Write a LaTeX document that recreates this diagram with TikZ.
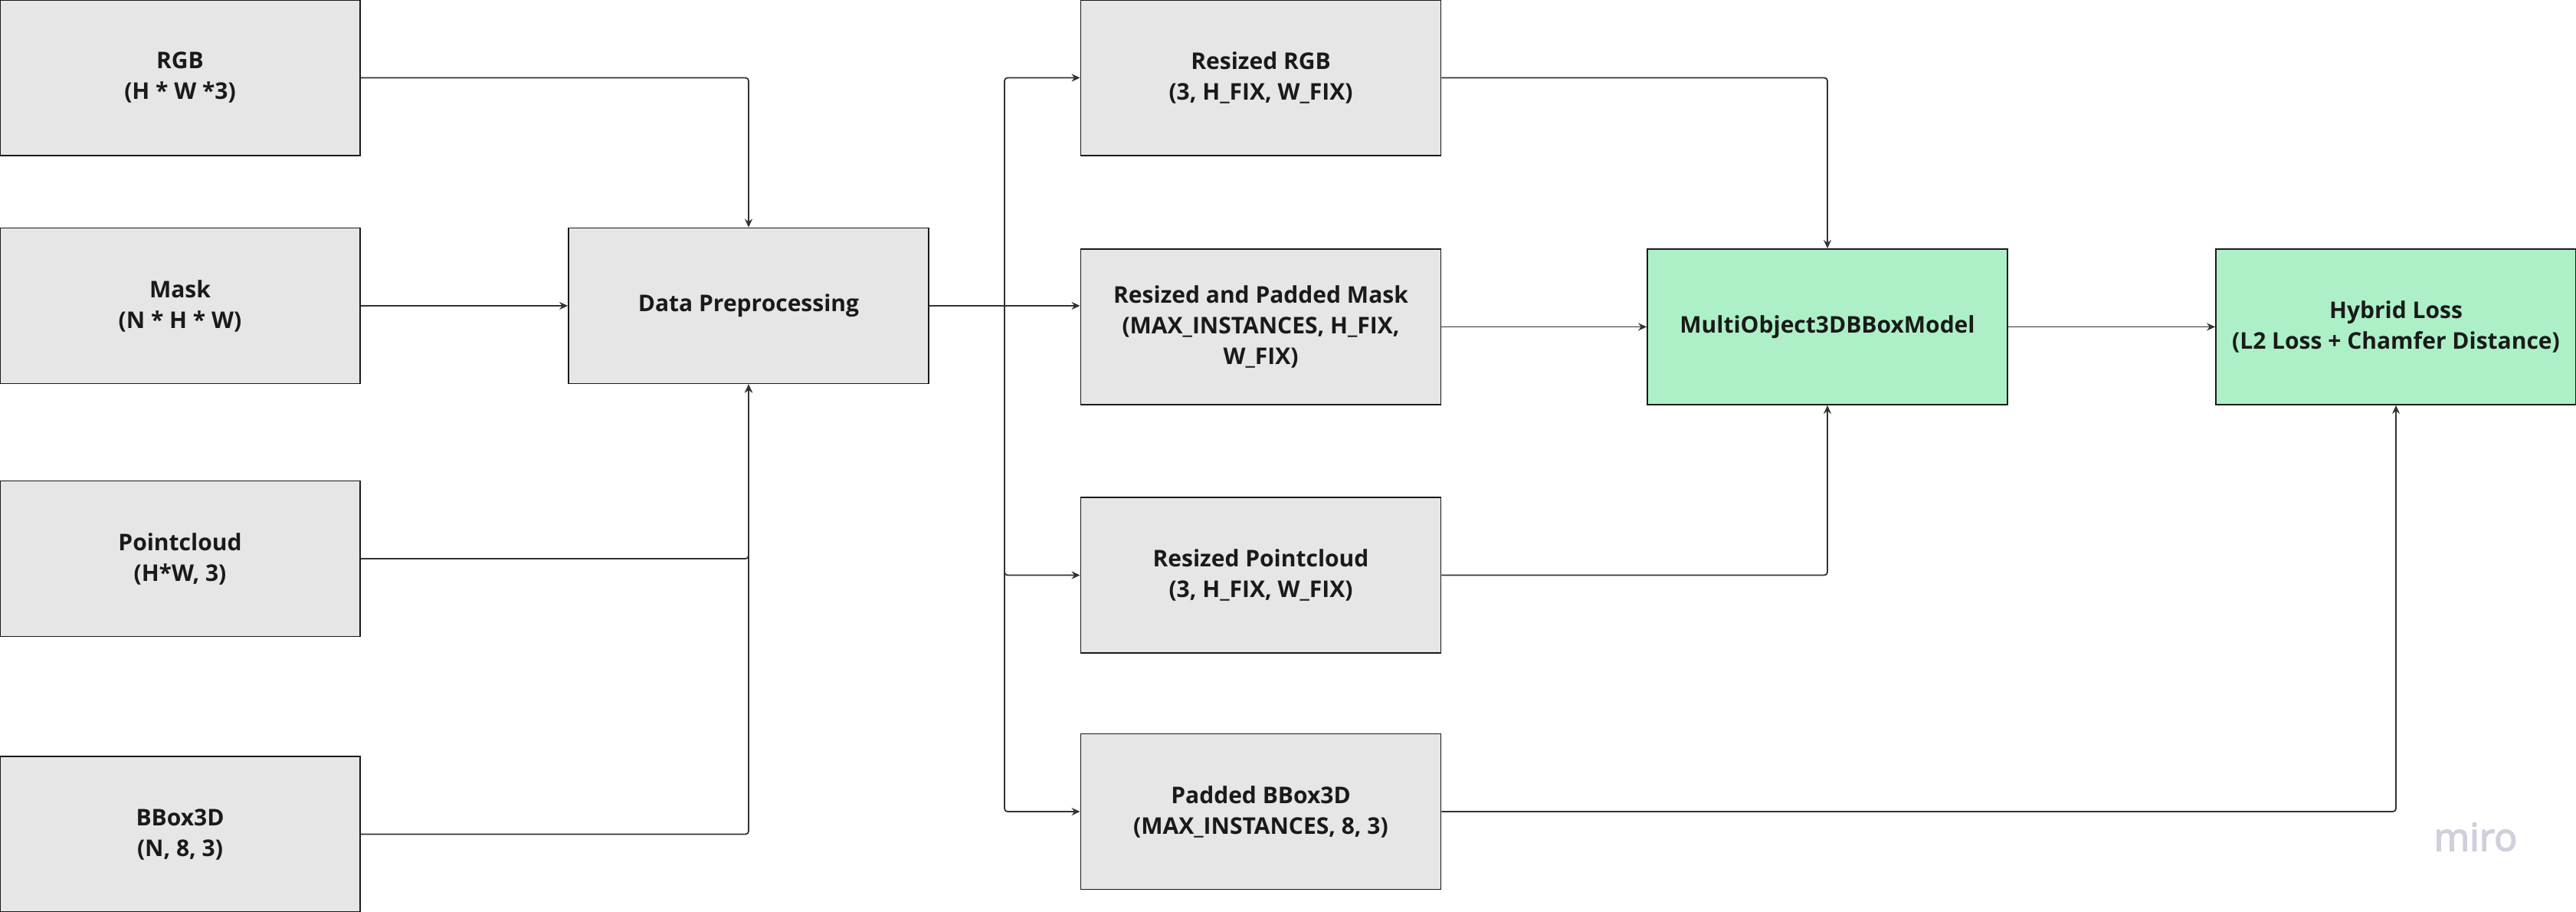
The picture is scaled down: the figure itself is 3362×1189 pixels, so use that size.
\documentclass[tikz,border=0pt]{standalone}
\usepackage{fontspec}
\setmainfont{Open Sans}
\newfontfamily\mirofont[FakeBold=3]{Open Sans}
\usetikzlibrary{arrows.meta}
\definecolor{boxgray}{HTML}{E6E6E6}
\definecolor{boxgreen}{HTML}{ADF0C8}
\definecolor{linegray}{HTML}{333333}
\definecolor{textblack}{HTML}{1A1A1A}
\definecolor{mirogray}{HTML}{D0CFDC}
\begin{document}
\begin{tikzpicture}[x=0.5pt, y=-0.5pt, >={Stealth[length=5.5pt,width=5pt]},
    block/.style={draw=textblack, line width=0.9pt, fill=boxgray, text=textblack,
      minimum width=235pt, minimum height=101.5pt, inner sep=0pt, align=center,
      font=\fontsize{15}{20}\selectfont\bfseries},
    greenblock/.style={block, fill=boxgreen},
    link/.style={->, draw=linegray, line width=0.9pt, rounded corners=2pt}]
    \useasboundingbox (0, 0) rectangle (3362, 1189);

    % inputs
    \node[block] (rgb) at (235, 101.5) {RGB\\(H * W *3)};
    \node[block] (mask) at (235, 399) {Mask\\(N * H * W)};
    \node[block] (pc) at (235, 729) {Pointcloud\\(H*W, 3)};
    \node[block] (bbox) at (235, 1088.5) {BBox3D\\(N, 8, 3)};

    \node[block] (prep) at (977, 399) {Data Preprocessing};

    % preprocessed tensors
    \node[block] (rrgb) at (1645.5, 101.5) {Resized RGB\\(3, H\_FIX, W\_FIX)};
    \node[block] (rmask) at (1645.5, 426.5) {Resized and Padded Mask\\(MAX\_INSTANCES, H\_FIX,\\W\_FIX)};
    \node[block] (rpc) at (1645.5, 750.5) {Resized Pointcloud\\(3, H\_FIX, W\_FIX)};
    \node[block] (pbbox) at (1645.5, 1059) {Padded BBox3D\\(MAX\_INSTANCES, 8, 3)};

    \node[greenblock] (model) at (2385, 426.5) {MultiObject3DBBoxModel};
    \node[greenblock] (loss) at (3127, 426.5) {Hybrid Loss\\(L2 Loss + Chamfer Distance)};

    \coordinate (split) at (1311, 399);

    \draw[link] (rgb.east) -| (prep.north);
    \draw[link] (mask.east) -- (prep.west);
    \draw[link] (pc.east) -| (prep.south);
    \draw[link] (bbox.east) -| (prep.south);

    \draw[link, -] (prep.east) -- (split);
    \draw[link] (split) |- (rrgb.west);
    \draw[link] (split) -- (split -| rmask.west);
    \draw[link] (split) |- (rpc.west);
    \draw[link] (split) |- (pbbox.west);

    \draw[link] (rrgb.east) -| (model.north);
    \draw[link] (rmask.east) -- (model.west);
    \draw[link] (rpc.east) -| (model.south);
    \draw[link] (model.east) -- (loss.west);
    \draw[link] (pbbox.east) -| (loss.south);

    \node[text=mirogray, font=\fontsize{25}{25}\selectfont\mirofont, anchor=base] (miro) at (3231, 1110) {miro};
\end{tikzpicture}
\end{document}
